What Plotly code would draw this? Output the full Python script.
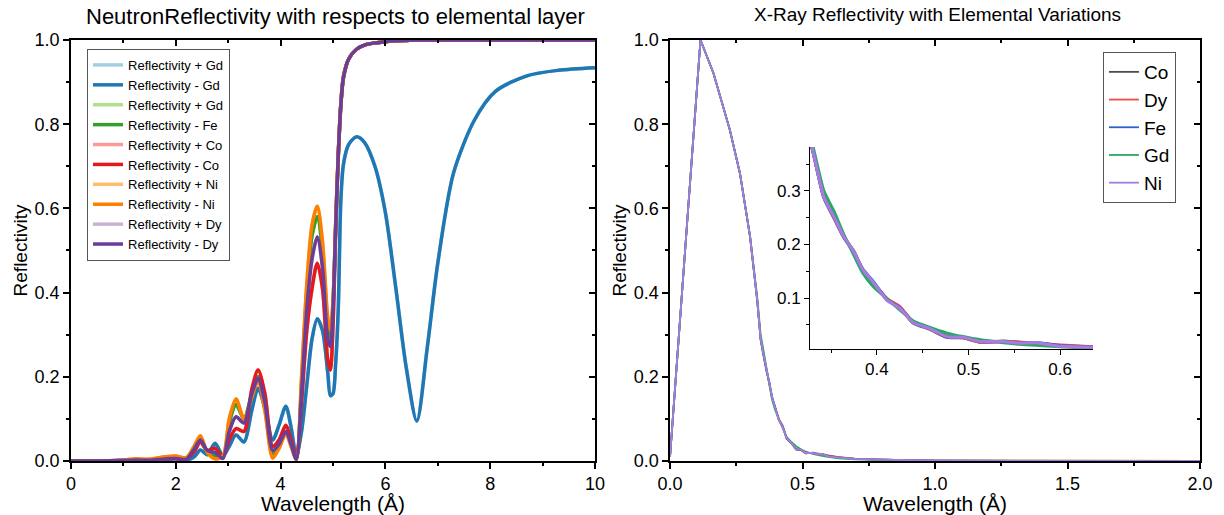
import plotly.graph_objects as go

# ---------------- Neutron reflectivity data (left panel) ----------------
wl_n = [0.0, 0.5, 1.0, 1.2, 1.5, 1.8, 2.0, 2.2, 2.35, 2.47, 2.6, 2.75, 2.9, 3.02, 3.15, 3.3,
        3.45, 3.57, 3.7, 3.85, 3.97, 4.1, 4.2, 4.3, 4.4, 4.5, 4.6, 4.7, 4.8, 4.9, 4.95, 5.0,
        5.05, 5.1, 5.15, 5.2, 5.3, 5.45, 5.6, 5.8, 6.0, 6.2, 6.4, 6.6, 6.8, 7.0, 7.3, 7.7,
        8.1, 8.7, 9.3, 10.0]

r_gd_minus = [0.0, 0.0, 0.001, 0.002, 0.002, 0.004, 0.005, 0.002, 0.010, 0.026, 0.015, 0.042,
              0.012, 0.035, 0.062, 0.045, 0.120, 0.173, 0.125, 0.050, 0.085, 0.130, 0.080, 0.012,
              0.070, 0.180, 0.290, 0.338, 0.310, 0.210, 0.155, 0.160, 0.230, 0.360, 0.620, 0.705,
              0.752, 0.770, 0.757, 0.700, 0.590, 0.410, 0.220, 0.095, 0.270, 0.470, 0.684, 0.810,
              0.878, 0.915, 0.928, 0.934]
r_fe_minus = [0.0, 0.0, 0.001, 0.003, 0.003, 0.007, 0.008, 0.005, 0.030, 0.055, 0.020, 0.012,
              0.010, 0.090, 0.134, 0.100, 0.160, 0.200, 0.130, 0.018, 0.035, 0.068, 0.038, 0.004,
              0.180, 0.400, 0.535, 0.580, 0.500, 0.320, 0.295, 0.370, 0.555, 0.725, 0.848, 0.912,
              0.955, 0.978, 0.988, 0.993, 0.996, 0.998, 0.999, 1.0, 1.0, 1.0, 1.0, 1.0,
              1.0, 1.0, 1.0, 1.0]
r_co_minus = [0.0, 0.0, 0.001, 0.002, 0.002, 0.005, 0.006, 0.004, 0.022, 0.045, 0.025, 0.030,
              0.010, 0.050, 0.077, 0.070, 0.170, 0.216, 0.160, 0.035, 0.050, 0.085, 0.050, 0.006,
              0.140, 0.310, 0.410, 0.470, 0.410, 0.240, 0.216, 0.320, 0.540, 0.720, 0.845, 0.910,
              0.955, 0.978, 0.988, 0.993, 0.996, 0.998, 0.999, 1.0, 1.0, 1.0, 1.0, 1.0,
              1.0, 1.0, 1.0, 1.0]
r_ni_minus = [0.0, 0.0, 0.002, 0.005, 0.004, 0.010, 0.012, 0.008, 0.035, 0.060, 0.020, 0.005,
              0.012, 0.100, 0.147, 0.100, 0.150, 0.190, 0.120, 0.007, 0.030, 0.065, 0.035, 0.004,
              0.200, 0.420, 0.560, 0.605, 0.520, 0.340, 0.310, 0.380, 0.560, 0.730, 0.850, 0.915,
              0.955, 0.978, 0.988, 0.993, 0.996, 0.998, 0.999, 1.0, 1.0, 1.0, 1.0, 1.0,
              1.0, 1.0, 1.0, 1.0]
r_dy_minus = [0.0, 0.0, 0.001, 0.002, 0.002, 0.005, 0.006, 0.004, 0.028, 0.050, 0.025, 0.020,
              0.006, 0.070, 0.105, 0.090, 0.160, 0.196, 0.140, 0.025, 0.040, 0.070, 0.040, 0.004,
              0.160, 0.360, 0.480, 0.532, 0.460, 0.290, 0.272, 0.360, 0.550, 0.725, 0.846, 0.912,
              0.955, 0.978, 0.988, 0.993, 0.996, 0.998, 0.999, 1.0, 1.0, 1.0, 1.0, 1.0,
              1.0, 1.0, 1.0, 1.0]
# "+" curves lie underneath the "-" curves in the reference
r_gd_plus = r_gd_minus
r_gd_plus2 = r_fe_minus
r_co_plus = r_co_minus
r_ni_plus = r_ni_minus
r_dy_plus = r_dy_minus

neutron_names = ["Reflectivity + Gd", "Reflectivity - Gd", "Reflectivity + Gd", "Reflectivity - Fe",
                 "Reflectivity + Co", "Reflectivity - Co", "Reflectivity + Ni", "Reflectivity - Ni",
                 "Reflectivity + Dy", "Reflectivity - Dy"]
neutron_values = [r_gd_plus, r_gd_minus, r_gd_plus2, r_fe_minus, r_co_plus, r_co_minus,
                  r_ni_plus, r_ni_minus, r_dy_plus, r_dy_minus]
neutron_colors = ["#a6cee3", "#1f78b4", "#b2df8a", "#33a02c", "#fb9a99", "#e31a1c",
                  "#fdbf6f", "#ff7f00", "#cab2d6", "#6a3d9a"]

# ---------------- X-ray reflectivity data (right panel) ----------------
wl_x = [0.0, 0.115, 0.164, 0.226, 0.264, 0.302, 0.329, 0.342, 0.353, 0.364, 0.375, 0.385,
        0.396, 0.411, 0.425, 0.440, 0.458, 0.476, 0.494, 0.513, 0.538, 0.556, 0.574, 0.596,
        0.636, 0.70, 0.80, 1.0, 1.5, 2.0]
x_co = [0.01, 1.0, 0.921, 0.786, 0.683, 0.533, 0.382, 0.288, 0.250, 0.213, 0.187, 0.150, 0.128,
        0.098, 0.083, 0.053, 0.042, 0.027, 0.026, 0.018, 0.020, 0.017, 0.016, 0.012, 0.009,
        0.005, 0.003, 0.001, 0.0, 0.0]
x_dy = [0.01, 1.0, 0.921, 0.786, 0.683, 0.533, 0.382, 0.290, 0.251, 0.215, 0.186, 0.151, 0.129,
        0.099, 0.084, 0.055, 0.043, 0.029, 0.026, 0.018, 0.019, 0.018, 0.016, 0.013, 0.009,
        0.005, 0.003, 0.001, 0.0, 0.0]
x_fe = [0.01, 1.0, 0.921, 0.786, 0.683, 0.533, 0.382, 0.289, 0.252, 0.214, 0.185, 0.153, 0.131,
        0.097, 0.082, 0.054, 0.044, 0.028, 0.027, 0.019, 0.019, 0.016, 0.017, 0.012, 0.008,
        0.005, 0.003, 0.001, 0.0, 0.0]
x_gd = [0.01, 1.0, 0.921, 0.786, 0.683, 0.535, 0.390, 0.300, 0.262, 0.218, 0.180, 0.146, 0.122,
        0.099, 0.078, 0.057, 0.045, 0.035, 0.028, 0.022, 0.017, 0.014, 0.012, 0.010, 0.006,
        0.004, 0.002, 0.001, 0.0, 0.0]
x_ni = [0.01, 1.0, 0.921, 0.786, 0.683, 0.533, 0.382, 0.289, 0.252, 0.214, 0.186, 0.152, 0.130,
        0.096, 0.081, 0.054, 0.043, 0.028, 0.027, 0.019, 0.019, 0.016, 0.017, 0.011, 0.008,
        0.005, 0.003, 0.001, 0.0, 0.0]
xray_names = ["Co", "Dy", "Fe", "Gd", "Ni"]
xray_values = [x_co, x_dy, x_fe, x_gd, x_ni]
xray_colors = ["#4d4d4d", "#f24a4a", "#2a63c4", "#27a866", "#a77be0"]

FONT = "Liberation Sans, Arial, sans-serif"

fig = go.Figure()

# light "+" curves on the base axes, dark "-" curves on the overlay axes (drawn on top)
for i, (name, vals, col) in enumerate(zip(neutron_names, neutron_values, neutron_colors)):
    on_top = (i % 2 == 1)
    fig.add_trace(go.Scatter(x=wl_n, y=vals, name=name, mode="lines",
                             line=dict(color=col, width=3.5, shape="spline", smoothing=0.8),
                             xaxis="x4" if on_top else "x", yaxis="y4" if on_top else "y",
                             legend="legend"))

for i, (name, vals, col) in enumerate(zip(xray_names, xray_values, xray_colors)):
    fig.add_trace(go.Scatter(x=wl_x, y=vals, name=name, mode="lines",
                             line=dict(color=col, width=1.8),
                             xaxis="x2" if i == 0 else "x5", yaxis="y2" if i == 0 else "y5",
                             legend="legend2"))

for name, vals, col in zip(xray_names, xray_values, xray_colors):
    fig.add_trace(go.Scatter(x=wl_x, y=vals, name=name, mode="lines", showlegend=False,
                             line=dict(color=col, width=3.2, shape="spline", smoothing=0.6),
                             xaxis="x3", yaxis="y3"))

ydom = [0.1049, 0.9223]
minor_out = lambda d: dict(ticks="outside", dtick=d, ticklen=3, tickcolor="black", tickwidth=1.5)
minor_in = lambda d: dict(ticks="inside", dtick=d, ticklen=3, tickcolor="black", tickwidth=1.5)
common = dict(showgrid=False, zeroline=False, showline=True, linecolor="black", linewidth=1.5,
              tickcolor="black", tickwidth=1.5, ticklen=6, automargin=False,
              tickfont=dict(family=FONT, size=18, color="black"))
inside = dict(showgrid=False, zeroline=False, showline=True, linecolor="black", linewidth=1.5,
              tickcolor="black", tickwidth=1.5, ticklen=6, ticks="inside", showticklabels=False,
              automargin=False)
inset = dict(showgrid=False, zeroline=False, showline=True, linecolor="black", linewidth=1,
             tickcolor="black", tickwidth=1, ticklen=5, ticks="outside", automargin=False,
             dtick=0.1, tick0=0, tickformat=".1f",
             minor=dict(ticks="outside", dtick=0.05, ticklen=3, tickcolor="black", tickwidth=1),
             tickfont=dict(family=FONT, size=17, color="black"))

fig.update_layout(
    width=1224, height=515, margin=dict(l=0, r=0, t=0, b=0),
    paper_bgcolor="white", plot_bgcolor="white",
    font=dict(family=FONT, color="black"),
    xaxis=dict(domain=[0.0580, 0.4861], range=[0, 10], anchor="y", ticks="outside", dtick=2, tick0=0,
               minor=minor_out(1),
               title=dict(text="Wavelength (Å)", font=dict(family=FONT, size=21), standoff=1), **common),
    yaxis=dict(domain=ydom, range=[0, 1], anchor="x", ticks="outside", dtick=0.2, tick0=0,
               tickformat=".1f", minor=minor_out(0.1),
               title=dict(text="Reflectivity", font=dict(family=FONT, size=19), standoff=2), **common),
    xaxis4=dict(overlaying="x", side="top", anchor="y4", range=[0, 10], dtick=2, tick0=0,
                minor=minor_in(1), **inside),
    yaxis4=dict(overlaying="y", side="right", anchor="x4", range=[0, 1], dtick=0.2, tick0=0,
                minor=minor_in(0.1), **inside),
    xaxis2=dict(domain=[0.5474, 0.9804], range=[0, 2], anchor="y2", ticks="outside", dtick=0.5, tick0=0,
                tickformat=".1f", minor=minor_out(0.25),
                title=dict(text="Wavelength (Å)", font=dict(family=FONT, size=21), standoff=1), **common),
    yaxis2=dict(domain=ydom, range=[0, 1], anchor="x2", ticks="outside", dtick=0.2, tick0=0,
                tickformat=".1f", minor=minor_out(0.1),
                title=dict(text="Reflectivity", font=dict(family=FONT, size=19), standoff=2), **common),
    xaxis5=dict(overlaying="x2", side="top", anchor="y5", range=[0, 2], dtick=0.5, tick0=0,
                minor=minor_in(0.25), **inside),
    yaxis5=dict(overlaying="y2", side="right", anchor="x5", range=[0, 1], dtick=0.2, tick0=0,
                minor=minor_in(0.1), **inside),
    xaxis3=dict(domain=[0.6618, 0.8930], range=[0.327, 0.636], anchor="y3", **inset),
    yaxis3=dict(domain=[0.3223, 0.7146], range=[0.005, 0.382], anchor="x3", **inset),
    legend=dict(x=0.0711, y=0.9049, xanchor="left", yanchor="top", bgcolor="white",
                bordercolor="#555555", borderwidth=1, font=dict(family=FONT, size=13, color="black"),
                tracegroupgap=0),
    legend2=dict(x=0.9011, y=0.899, xanchor="left", yanchor="top", bgcolor="white",
                 bordercolor="#555555", borderwidth=1, font=dict(family=FONT, size=19, color="black"),
                 tracegroupgap=0),
    annotations=[
        dict(text="NeutronReflectivity with respects to elemental layer", x=0.2745, y=0.967,
             xref="paper", yref="paper", xanchor="center", yanchor="middle", showarrow=False,
             font=dict(family=FONT, size=22, color="black")),
        dict(text="X-Ray Reflectivity with Elemental Variations", x=0.766, y=0.971,
             xref="paper", yref="paper", xanchor="center", yanchor="middle", showarrow=False,
             font=dict(family=FONT, size=19, color="black")),
    ],
)

fig.write_html("out.html")
